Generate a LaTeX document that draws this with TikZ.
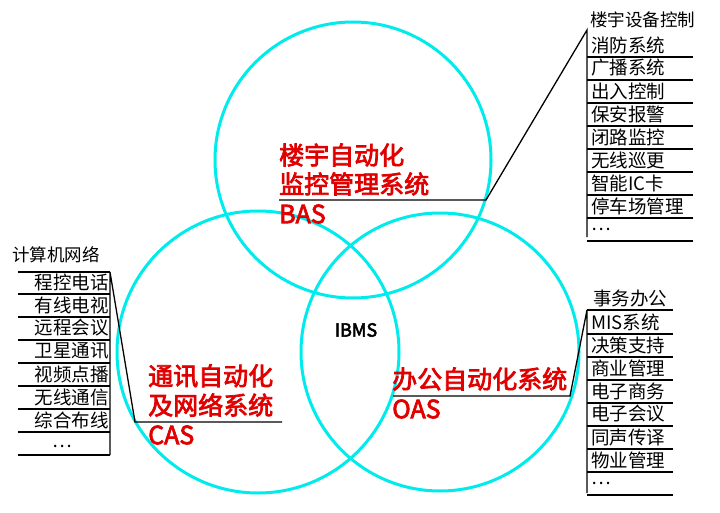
\documentclass[tikz,border=0pt]{standalone}
\usepackage{fontspec}
\setmainfont{Noto Sans CJK SC}
\newfontfamily\rfont{Noto Sans CJK SC}[FakeBold=3]
\begin{document}
\begin{tikzpicture}[x=1pt,y=-1pt,
  ring/.style={draw={rgb,255:red,0;green,235;blue,235},line width=3pt},
  ln/.style={draw=black,line width=1.3pt},
  item/.style={font=\fontsize{18.5}{18.5}\selectfont,inner sep=0pt,anchor=west},
  ritem/.style={font=\fontsize{18.5}{18.5}\selectfont,inner sep=0pt,anchor=east},
  red/.style={font=\rfont\fontsize{25}{25}\selectfont,text={rgb,255:red,225;green,0;blue,0},inner sep=0pt,anchor=west}]
\useasboundingbox (0,0) rectangle (720,513);
\draw[ring] (353,160) circle (138);
\draw[ring] (258,352) circle (141);
\draw[ring] (440,352) circle (139);
\node[font=\rfont\fontsize{18}{18}\selectfont,inner sep=0pt] (ibms) at (356,330) {IBMS};
% BAS
\node[red] (b1) at (279,155) {楼宇自动化};
\node[red] (b2) at (279,184) {监控管理系统};
\node[red] (b3) at (279,214) {BAS};
\coordinate (bl) at (279,200); \coordinate (bk) at (486,200); \coordinate (bt) at (587,30);
\draw[ln] (bl) -- (bk) -- (bt) -- (587,237);
\node[item,font=\fontsize{17.5}{17.5}\selectfont] (t0) at (590,20) {楼宇设备控制};
\foreach \t [count=\i] in {消防系统,广播系统,出入控制,保安报警,闭路监控,无线巡更,智能IC卡,停车场管理,…}{
  \node[item] (t\i) at (591,{22+\i*23}) {\t};
  \draw[ln] (587,{34+\i*23}) -- (693,{34+\i*23});
}
% CAS
\node[red] (c1) at (148,376) {通讯自动化};
\node[red] (c2) at (148,405) {及网络系统};
\node[red] (c3) at (148,435) {CAS};
\coordinate (cl) at (282,422); \coordinate (ck) at (135,422); \coordinate (ct) at (110,272);
\draw[ln] (cl) -- (ck) -- (ct) -- (110,455);
\draw[ln] (18,272) -- (ct);
\node[item,font=\fontsize{17.5}{17.5}\selectfont] (l0) at (12,255) {计算机网络};
\foreach \t [count=\i] in {程控电话,有线电视,远程会议,卫星通讯,视频点播,无线通信,综合布线}{
  \node[ritem] (l\i) at (109,{259+\i*23}) {\t};
  \draw[ln] (18,{271+\i*23}) -- (110,{271+\i*23});
}
\node[item] (l8) at (52,446) {…};
\draw[ln] (18,455) -- (110,455);
% OAS
\node[red] (o1) at (392,379) {办公自动化系统};
\node[red] (o2) at (392,409) {OAS};
\coordinate (ol) at (393,396); \coordinate (ok) at (570,396); \coordinate (ot) at (587,310);
\draw[ln] (ol) -- (ok) -- (ot) -- (587,493);
\draw[ln] (ot) -- (673,310);
\node[item] (r0) at (593,298) {事务办公};
\foreach \t [count=\i] in {MIS系统,决策支持,商业管理,电子商务,电子会议,同声传译,物业管理,…}{
  \node[item] (r\i) at (591,{299+\i*23}) {\t};
  \draw[ln] (587,{311+\i*23}) -- (673,{311+\i*23});
}
\end{tikzpicture}
\end{document}
